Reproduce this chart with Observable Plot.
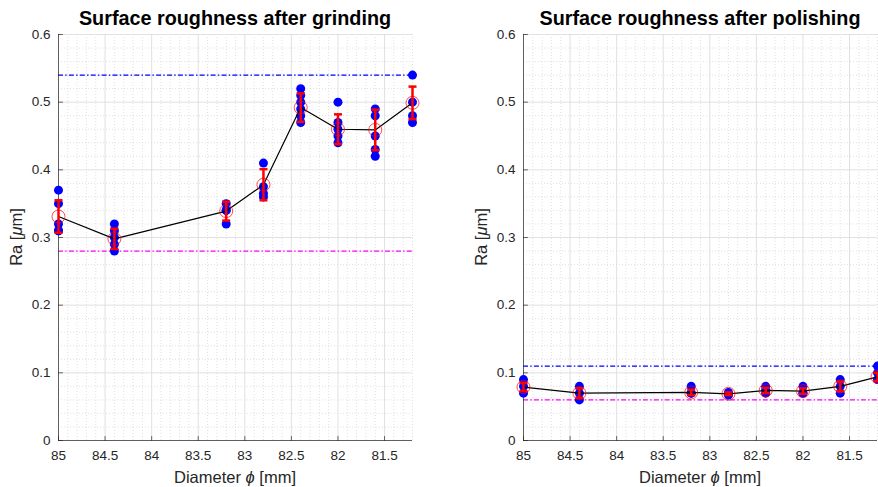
<!DOCTYPE html>
<html><head><meta charset="utf-8">
<script src="https://cdn.jsdelivr.net/npm/d3@7"></script>
<script src="https://cdn.jsdelivr.net/npm/@observablehq/plot@0.6"></script>
<style>
body{margin:0;background:#fff;font-family:"Liberation Sans",Arial,Helvetica,sans-serif;}
#fig{position:relative;width:878px;height:487px;overflow:hidden;background:#fff}
.title{position:absolute;top:5px;width:354px;text-align:center;font-weight:bold;font-size:19.8px;line-height:26px;color:#000;white-space:nowrap}
.panel{position:absolute;top:26px;width:439px;height:461px}
</style></head><body><div id="fig"></div>
<script>
// Diameters (mm) at which measurements were taken
const diameters = [85, 84.4, 83.2, 82.8, 82.4, 82.0, 81.6, 81.2];

// After grinding: individual Ra measurements (µm), means and error-bar half-lengths
const grindSamples = [
  [0.37, 0.35, 0.32, 0.31, 0.31],
  [0.32, 0.31, 0.30, 0.29, 0.28],
  [0.35, 0.34, 0.34, 0.32],
  [0.41, 0.375, 0.365, 0.36],
  [0.52, 0.51, 0.50, 0.49, 0.48, 0.47],
  [0.50, 0.47, 0.46, 0.45, 0.44],
  [0.49, 0.48, 0.45, 0.43, 0.42],
  [0.54, 0.50, 0.48, 0.47]
];
const grindMean = [0.331, 0.298, 0.339, 0.378, 0.492, 0.460, 0.459, 0.499];
const grindErr  = [0.024, 0.015, 0.014, 0.023, 0.021, 0.022, 0.030, 0.024];
const grindLimits = [0.54, 0.28];   // upper (blue), lower (magenta)

// After polishing
const polishSamples = [
  [0.09, 0.08, 0.07],
  [0.08, 0.07, 0.06],
  [0.08, 0.07, 0.07],
  [0.071, 0.067],
  [0.08, 0.075, 0.07],
  [0.08, 0.07, 0.07],
  [0.09, 0.08, 0.07],
  [0.11, 0.10, 0.09]
];
const polishMean = [0.079, 0.070, 0.071, 0.069, 0.074, 0.073, 0.080, 0.094];
const polishErr  = [0.006, 0.007, 0.004, 0.002, 0.004, 0.004, 0.007, 0.006];
const polishLimits = [0.11, 0.06];

// Axes
const xTicks = [85, 84.5, 84, 83.5, 83, 82.5, 82, 81.5];
const yTicks = [0, 0.1, 0.2, 0.3, 0.4, 0.5, 0.6];
const xDomain = [85, 81.2];
const yDomain = [0, 0.6];
const titles = ["Surface roughness after grinding", "Surface roughness after polishing"];

const minorX = d3.range(850, 811, -1).filter(d => d % 5 !== 0).map(d => d / 10);
const minorY = d3.range(0, 61, 2).filter(d => d % 10 !== 0).map(d => d / 100);

const tickShape = {draw(ctx, l) { ctx.moveTo(0, 0); ctx.lineTo(0, -l); }};
const capShape = {draw(ctx, size) { const w = Math.sqrt(size / Math.PI); ctx.moveTo(-w, 0); ctx.lineTo(w, 0); }};
const dashDot = "5,2.2,1.5,2.2";
const axisColor = "#262626";

function panel(idx, samples, mean, err, limits, marginLeft, marginRight, left) {
  const pts = samples.flatMap((arr, i) => arr.map(v => ({x: diameters[i], y: v})));
  const stats = diameters.map((x, i) => ({x, m: mean[i], lo: mean[i] - err[i], hi: mean[i] + err[i]}));
  const plot = Plot.plot({
    width: 439, height: 461,
    marginTop: 8, marginBottom: 47, marginLeft, marginRight,
    x: {domain: xDomain, axis: null},
    y: {domain: yDomain, axis: null},
    style: {fontFamily: '"Liberation Sans", Arial, Helvetica, sans-serif', fontSize: "13.5px", color: axisColor, background: "transparent", overflow: "visible"},
    marks: [
      Plot.ruleX(minorX, {stroke: "#d2d2d2", strokeDasharray: "1,2", strokeWidth: 0.7}),
      Plot.ruleY(minorY, {stroke: "#d2d2d2", strokeDasharray: "1,2", strokeWidth: 0.7}),
      Plot.ruleX(xTicks, {stroke: "#dedede", strokeWidth: 0.9}),
      Plot.ruleY(yTicks, {stroke: "#dedede", strokeWidth: 0.9}),
      Plot.ruleY([limits[0]], {stroke: "#0000ff", strokeDasharray: dashDot, strokeWidth: 1.2}),
      Plot.ruleY([limits[1]], {stroke: "#ff00ff", strokeDasharray: dashDot, strokeWidth: 1.2}),
      Plot.ruleX([xDomain[0]], {stroke: axisColor, strokeWidth: 0.7}),
      Plot.ruleY([yDomain[0]], {stroke: axisColor, strokeWidth: 0.7}),
      Plot.vector(xTicks, {x: d => d, y: yDomain[0], length: 4, rotate: 0, anchor: "start", shape: tickShape, stroke: axisColor, strokeWidth: 0.7}),
      Plot.vector(yTicks, {x: xDomain[0], y: d => d, length: 4, rotate: 90, anchor: "start", shape: tickShape, stroke: axisColor, strokeWidth: 0.7}),
      Plot.axisX({ticks: xTicks, tickSize: 0, tickPadding: 10, tickFormat: d => String(d), label: null, fontSize: 13.5, fill: axisColor}),
      Plot.axisY({ticks: yTicks, tickSize: 0, tickPadding: 8, tickFormat: d => String(d), label: null, fontSize: 13.5, fill: axisColor}),
      Plot.dot(pts, {x: "x", y: "y", r: 4.5, fill: "#0000ff"}),
      Plot.line(stats, {x: "x", y: "m", stroke: "#000000", strokeWidth: 1.2}),
      Plot.ruleX(stats, {x: "x", y1: "lo", y2: "hi", stroke: "#ff0000", strokeWidth: 2.5}),
      Plot.dot(stats, {x: "x", y: "lo", symbol: capShape, r: 4, stroke: "#ff0000", strokeWidth: 2.5}),
      Plot.dot(stats, {x: "x", y: "hi", symbol: capShape, r: 4, stroke: "#ff0000", strokeWidth: 2.5}),
      Plot.dot(stats, {x: "x", y: "m", r: 6.5, stroke: "#ff0000", strokeWidth: 0.7, fill: "none"})
    ]
  });
  // axis labels with italic Greek symbols
  const svg = d3.select(plot);
  const cx = marginLeft + (439 - marginLeft - marginRight) / 2;
  const xl = svg.append("text").attr("x", cx).attr("y", 457)
    .attr("text-anchor", "middle").attr("font-size", 16.5).attr("fill", axisColor);
  xl.append("tspan").text("Diameter ");
  xl.append("tspan").attr("font-style", "italic").text("ϕ");
  xl.append("tspan").text(" [mm]");
  const cy = 8 + (461 - 8 - 47) / 2;
  const yl = svg.append("text").attr("transform", `translate(${marginLeft - 36},${cy}) rotate(-90)`)
    .attr("text-anchor", "middle").attr("font-size", 16.5).attr("fill", axisColor);
  yl.append("tspan").text("Ra [");
  yl.append("tspan").attr("font-style", "italic").text("μ");
  yl.append("tspan").text("m]");

  const fig = document.getElementById("fig");
  const title = document.createElement("div");
  title.className = "title";
  title.style.left = (left + marginLeft) + "px";
  title.textContent = titles[idx];
  fig.appendChild(title);
  const wrap = document.createElement("div");
  wrap.className = "panel";
  wrap.style.left = left + "px";
  wrap.appendChild(plot);
  fig.appendChild(wrap);
}

panel(0, grindSamples, grindMean, grindErr, grindLimits, 58, 27, 0);
panel(1, polishSamples, polishMean, polishErr, polishLimits, 84, 1, 439);
</script>
</body></html>
